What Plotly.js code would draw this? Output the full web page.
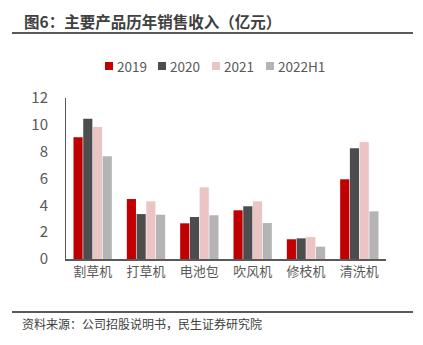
<!DOCTYPE html>
<html><head><meta charset="utf-8">
<script src="https://cdn.plot.ly/plotly-3.0.1.min.js"></script>
<style>body{margin:0;padding:0;background:#fff}#chart{width:423px;height:345px}</style>
</head><body><div id="chart"></div>
<script>
const categories = ['割草机','打草机','电池包','吹风机','修枝机','清洗机'];
const seriesNames = ['2019','2020','2021','2022H1'];
const v2019 = [9.07, 4.47, 2.66, 3.63, 1.47, 5.94];
const v2020 = [10.45, 3.35, 3.13, 3.93, 1.54, 8.25];
const v2021 = [9.84, 4.30, 5.34, 4.30, 1.64, 8.72];
const v2022H1 = [7.65, 3.30, 3.26, 2.68, 0.92, 3.55];
const colors = ['#C00000','#4D4D4F','#EBC4C4','#B4B4B4'];
const allVals = [v2019, v2020, v2021, v2022H1];
const font = '"Noto Sans CJK SC", "Noto Sans", sans-serif';

// plot area: x 66..386 (320px), y 98..259 (161px)
const W = 320, H = 161, L = 66, T = 98;
const px = x => (x - L) / W;
const py = y => (T + H - y) / H;

const traces = allVals.map((vals, i) => ({
  type: 'bar', name: seriesNames[i], x: categories, y: vals,
  marker: {color: colors[i]}, hoverinfo: 'skip', showlegend: false
}));

// custom legend (square swatch tight to text, as in reference)
const legendX = [105, 158, 212, 266];
const legendY = 66;
const shapes = [
  {type: 'line', xref: 'paper', yref: 'paper', x0: px(12), x1: px(413), y0: py(33), y1: py(33), line: {color: '#595959', width: 2}},
  {type: 'line', xref: 'paper', yref: 'paper', x0: px(12), x1: px(413), y0: py(312), y1: py(312), line: {color: '#595959', width: 2}}
];
const annotations = [
  {text: '<b>图6：主要产品历年销售收入（亿元）</b>', xref: 'paper', yref: 'paper', x: px(22), y: py(21), xanchor: 'left', yanchor: 'middle',
    showarrow: false, font: {size: 15.5, color: '#404040', family: font}},
  {text: '资料来源：公司招股说明书，民生证券研究院', xref: 'paper', yref: 'paper', x: px(20), y: py(323.5), xanchor: 'left', yanchor: 'middle',
    showarrow: false, font: {size: 12, color: '#404040', family: font}}
];
seriesNames.forEach((n, i) => {
  shapes.push({type: 'rect', xref: 'paper', yref: 'paper', x0: px(legendX[i]), x1: px(legendX[i] + 8),
    y0: py(legendY + 4), y1: py(legendY - 4), fillcolor: colors[i], line: {width: 0}});
  annotations.push({text: n, xref: 'paper', yref: 'paper', x: px(legendX[i] + 10), y: py(legendY), xanchor: 'left', yanchor: 'middle',
    showarrow: false, font: {size: 13.5, color: '#595959', family: font}});
});

const layout = {
  width: 423, height: 345,
  margin: {l: 66, r: 37, t: 98, b: 86},
  paper_bgcolor: '#fff', plot_bgcolor: '#fff',
  barmode: 'group', bargap: 0.27, bargroupgap: 0.06,
  font: {family: font, color: '#595959'},
  showlegend: false,
  xaxis: {showline: true, linecolor: '#595959', linewidth: 1.5, ticks: '', tickfont: {size: 13, color: '#595959'}, fixedrange: true},
  yaxis: {range: [0, 12], dtick: 2, showline: true, linecolor: '#595959', linewidth: 1, showgrid: false, zeroline: false,
    ticks: '', ticklabelstandoff: 14, tickfont: {size: 15, color: '#595959'}, fixedrange: true},
  shapes: shapes,
  annotations: annotations
};
Plotly.newPlot('chart', traces, layout, {displayModeBar: false, staticPlot: true});
</script></body></html>
